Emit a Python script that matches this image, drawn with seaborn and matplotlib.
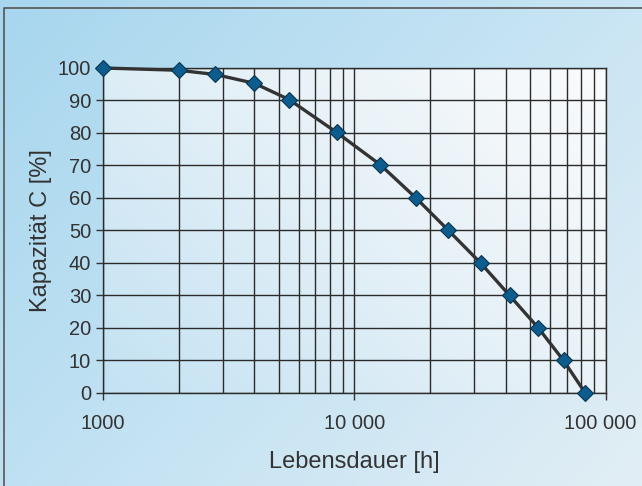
import matplotlib
matplotlib.use('Agg')
import matplotlib.pyplot as plt
import matplotlib.transforms as mtransforms
import seaborn as sns
import numpy as np
import pandas as pd
from matplotlib.colors import LinearSegmentedColormap

# Werte
stunden = [1000, 2000, 2800, 4000, 5500, 8500, 12700, 17600, 23700, 31800, 41500, 54000, 68000, 83000]
kapazitaet = [100, 99.3, 98, 95.3, 90.3, 80.2, 70.2, 60, 50, 40, 30, 20, 10, 0]
x_ticks = [1000, 10000, 100000]
x_ticklabels = ['1000', '10 000', '100 000']
y_ticks = list(range(0, 101, 10))

df = pd.DataFrame({'Lebensdauer': stunden, 'Kapazitaet': kapazitaet})

sns.set_style('white')
plt.rcParams['font.family'] = ['Liberation Sans', 'DejaVu Sans']

fig = plt.figure(figsize=(6.42, 4.86), dpi=100)

# Hintergrund (hellblau, nach rechts unten heller)
bg = fig.add_axes([0, 0, 1, 1], zorder=-10)
gx, gy = np.meshgrid(np.linspace(0, 1, 200), np.linspace(0, 1, 200))
cm_bg = LinearSegmentedColormap.from_list('bg', ['#a7d6ee', '#c4e3f3', '#e2eef5'])
bg.imshow(0.6 * gx + 0.4 * gy, cmap=cm_bg, extent=[0, 1, 0, 1], aspect='auto', origin='upper')
bg.plot([0.006, 0.006, 1.0], [0.0, 0.984, 0.984], color='#555555', lw=1.2)
bg.set_xlim(0, 1)
bg.set_ylim(0, 1)
bg.axis('off')

ax = fig.add_axes([0.1604, 0.1914, 0.7829, 0.6687])
cm_ax = LinearSegmentedColormap.from_list('ax', ['#c3e2f3', '#e4f0f7', '#fafbfc'])
ax.imshow(0.6 * gx + 0.4 * (1 - gy), cmap=cm_ax, extent=[0, 1, 0, 1], aspect='auto',
          origin='upper', transform=ax.transAxes, zorder=0)

ax.set_xscale('log')
ax.set_xlim(1000, 100000)
ax.set_ylim(0, 100)

# Gitter
for v in list(range(1000, 10000, 1000)) + list(range(10000, 100001, 10000)):
    ax.axvline(v, color='#2b2b2b', lw=1.0, zorder=1)
for v in y_ticks:
    ax.axhline(v, color='#2b2b2b', lw=1.0, zorder=1)

sns.lineplot(data=df, x='Lebensdauer', y='Kapazitaet', ax=ax, sort=False,
             color='#333333', lw=2.4, marker='D', markersize=8,
             markerfacecolor='#0d5c8e', markeredgecolor='#0a3550', markeredgewidth=0.8,
             zorder=5, clip_on=False)

ax.set_xticks(x_ticks)
ax.set_xticklabels(x_ticklabels)
ax.xaxis.set_minor_locator(matplotlib.ticker.NullLocator())
ax.set_yticks(y_ticks)
ax.tick_params(axis='both', labelsize=14.5, colors='#333333', length=5, width=1,
               direction='out', bottom=True, left=True)
ax.tick_params(axis='x', pad=10)
# letzte Beschriftung etwas nach links, damit sie nicht am Rand abgeschnitten wird
last = ax.get_xticklabels()[-1]
last.set_transform(last.get_transform() + mtransforms.ScaledTranslation(-4 / 72, 0, fig.dpi_scale_trans))
ax.set_xlabel('Lebensdauer [h]', fontsize=17, color='#333333', labelpad=13)
ax.set_ylabel('Kapazität C [%]', fontsize=17, color='#333333', labelpad=4)
for s in ax.spines.values():
    s.set_color('#2b2b2b')
    s.set_linewidth(1.0)

fig.savefig('out.png', dpi=100)
